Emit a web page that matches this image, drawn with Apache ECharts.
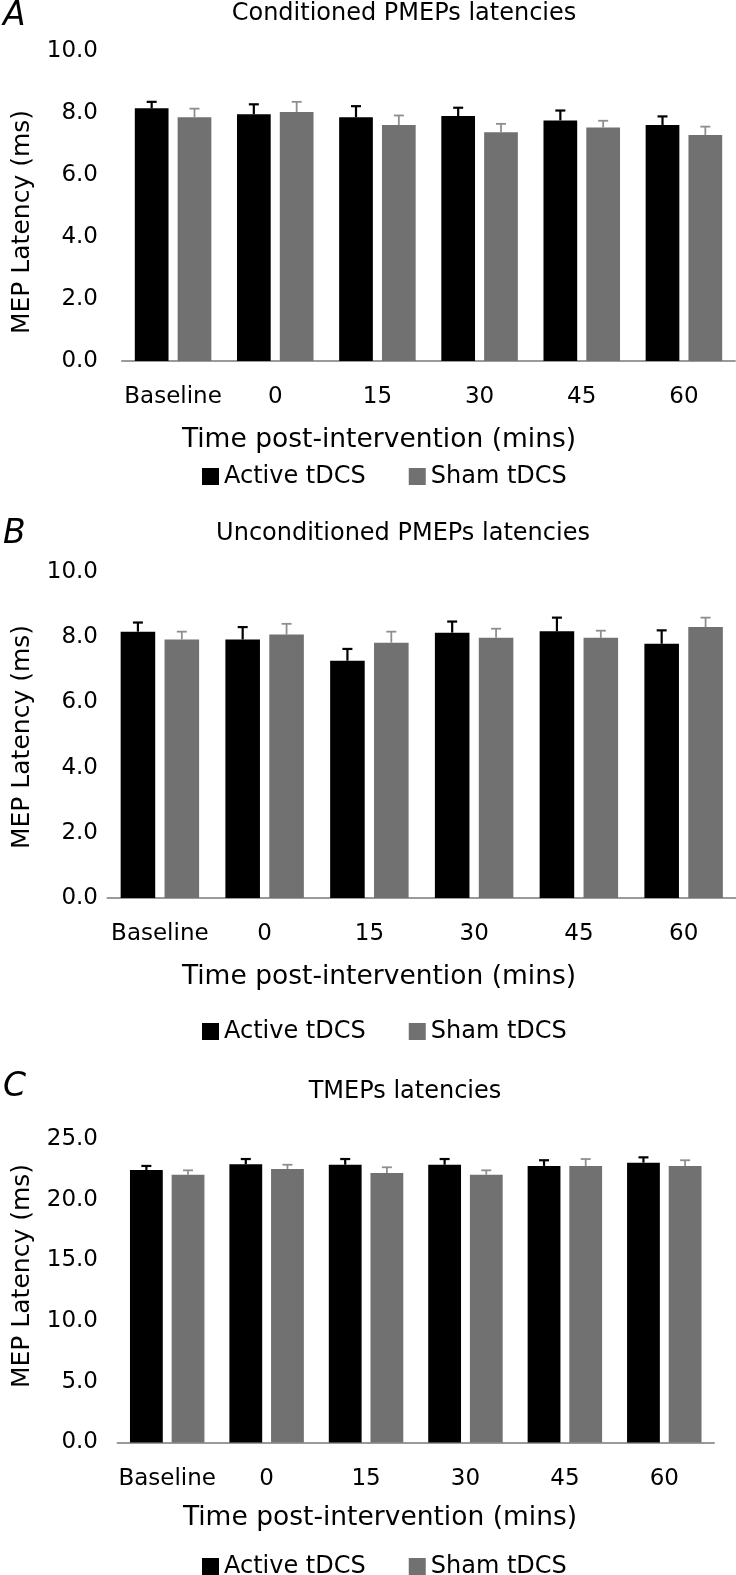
<!DOCTYPE html>
<html>
<head>
<meta charset="utf-8">
<script src="https://cdn.jsdelivr.net/npm/echarts@6/dist/echarts.min.js"></script>
<style>
html,body{margin:0;padding:0;background:#fff;}
#chart{width:736px;height:1575px;}
</style>
</head>
<body>
<div id="chart"></div>
<script>
// ---------- data ----------
const categories = ['Baseline', '0', '15', '30', '45', '60'];
const seriesNames = ['Active tDCS', 'Sham tDCS'];

const condActive    = [8.15, 7.96, 7.86, 7.90, 7.76, 7.61];
const condActiveErr = [0.21, 0.32, 0.36, 0.27, 0.32, 0.28];
const condSham      = [7.86, 8.03, 7.61, 7.38, 7.53, 7.29];
const condShamErr   = [0.28, 0.33, 0.31, 0.27, 0.22, 0.27];

const uncondActive    = [8.17, 7.93, 7.28, 8.14, 8.18, 7.80];
const uncondActiveErr = [0.28, 0.38, 0.36, 0.34, 0.42, 0.41];
const uncondSham      = [7.93, 8.08, 7.83, 7.98, 7.98, 8.31];
const uncondShamErr   = [0.24, 0.33, 0.34, 0.28, 0.22, 0.29];

const tmepActive    = [22.45, 22.92, 22.88, 22.88, 22.78, 23.05];
const tmepActiveErr = [0.33, 0.43, 0.47, 0.47, 0.47, 0.44];
const tmepSham      = [22.06, 22.53, 22.20, 22.06, 22.78, 22.78];
const tmepShamErr   = [0.36, 0.35, 0.47, 0.36, 0.57, 0.47];

const panelTitles = ['Conditioned PMEPs latencies', 'Unconditioned PMEPs latencies', 'TMEPs latencies'];
const panelLetters = ['A', 'B', 'C'];
const yMaxes = [10, 10, 25];
const yIntervals = [2, 2, 5];
const yTitle = 'MEP Latency (ms)';
const xTitle = 'Time post-intervention (mins)';

// ---------- style / layout ----------
const FONT = '"DejaVu Sans", sans-serif';
const BLACK = '#000000';
const GRAY = '#717171';
const ERR_GRAY = '#8e8e8e';
const BAR_W = 0.33, BAR_GAP = 0.27;

const panels = [
  {grid:{left:122, top:51, width:613, height:310}, labelMargin:24, axisY:361,
   letterY:15, titleX:404, titleY:13, yTitleY:222, xTitleX:379, xTitleY:439, legendY:476.5,
   active:condActive, activeErr:condActiveErr, sham:condSham, shamErr:condShamErr},
  {grid:{left:107.5, top:572, width:649, height:326}, labelMargin:9.5, axisY:898,
   letterY:533, titleX:403, titleY:533, yTitleY:737, xTitleX:379, xTitleY:976, legendY:1031.5,
   active:uncondActive, activeErr:uncondActiveErr, sham:uncondSham, shamErr:uncondShamErr},
  {grid:{left:117.5, top:1139, width:596.5, height:303.5}, labelMargin:19.5, axisY:1442.5,
   letterY:1086, titleX:405, titleY:1091, yTitleY:1276, xTitleX:380, xTitleY:1517, legendY:1566.5,
   active:tmepActive, activeErr:tmepActiveErr, sham:tmepSham, shamErr:tmepShamErr}
];

function errRender(sign, color, lw) {
  return function (params, api) {
    const cat = api.value(0), v = api.value(1), e = api.value(2);
    const band = api.size([1, 0])[0];
    const bw = band * BAR_W;
    const dx = sign * (bw + bw * BAR_GAP) / 2;
    const p0 = api.coord([cat, v]);
    const p1 = api.coord([cat, v + e]);
    const x = p0[0] + dx;
    return {
      type: 'group',
      children: [
        {type: 'line', shape: {x1: x, y1: p0[1], x2: x, y2: p1[1]}, style: {stroke: color, lineWidth: lw}},
        {type: 'line', shape: {x1: x - 5, y1: p1[1], x2: x + 5, y2: p1[1]}, style: {stroke: color, lineWidth: lw}}
      ]
    };
  };
}

const grids = [], xAxes = [], yAxes = [], series = [], legends = [], graphics = [];
panels.forEach(function (p, i) {
  grids.push(Object.assign({containLabel: false}, p.grid));
  xAxes.push({
    type: 'category', gridIndex: i, data: categories,
    axisLine: {show: true, lineStyle: {color: '#9a9a9a', width: 2}},
    axisTick: {show: false},
    axisLabel: {color: '#000', fontFamily: FONT, fontSize: 23, margin: 25, interval: 0},
    splitLine: {show: false}
  });
  yAxes.push({
    type: 'value', gridIndex: i, min: 0, max: yMaxes[i], interval: yIntervals[i],
    axisLine: {show: false}, axisTick: {show: false}, splitLine: {show: false},
    axisLabel: {color: '#000', fontFamily: FONT, fontSize: 23, margin: p.labelMargin,
      formatter: function (v) { return v.toFixed(1); }}
  });
  series.push({
    name: seriesNames[0], type: 'bar', xAxisIndex: i, yAxisIndex: i, data: p.active,
    barWidth: (BAR_W * 100) + '%', barGap: (BAR_GAP * 100) + '%',
    itemStyle: {color: BLACK}, z: 2
  });
  series.push({
    name: seriesNames[1], type: 'bar', xAxisIndex: i, yAxisIndex: i, data: p.sham,
    barWidth: (BAR_W * 100) + '%', barGap: (BAR_GAP * 100) + '%',
    itemStyle: {color: GRAY}, z: 2
  });
  series.push({
    type: 'custom', xAxisIndex: i, yAxisIndex: i, z: 5,
    renderItem: errRender(-1, BLACK, 2.2),
    encode: {x: 0, y: 1},
    data: p.active.map(function (v, k) { return [k, v, p.activeErr[k]]; })
  });
  series.push({
    type: 'custom', xAxisIndex: i, yAxisIndex: i, z: 5,
    renderItem: errRender(1, ERR_GRAY, 1.8),
    encode: {x: 0, y: 1},
    data: p.sham.map(function (v, k) { return [k, v, p.shamErr[k]]; })
  });
  legends.push({
    left: 202, top: p.legendY - 12, itemWidth: 17, itemHeight: 17, itemGap: 43,
    icon: 'rect', selectedMode: false, padding: 0,
    textStyle: {fontFamily: FONT, fontSize: 24, color: '#000'},
    data: seriesNames.slice()
  });
  graphics.push({type: 'text', x: 3, y: p.letterY + 1,
    style: {text: panelLetters[i], font: 'italic 33px ' + FONT, fill: '#000', align: 'left', verticalAlign: 'middle'}});
  graphics.push({type: 'text', x: p.titleX, y: p.titleY + 1,
    style: {text: panelTitles[i], font: '24px ' + FONT, fill: '#000', align: 'center', verticalAlign: 'middle'}});
  graphics.push({type: 'text', x: 22, y: p.yTitleY, rotation: Math.PI / 2,
    style: {text: yTitle, font: '25px ' + FONT, fill: '#000', align: 'center', verticalAlign: 'middle'}});
  graphics.push({type: 'text', x: p.xTitleX, y: p.xTitleY + 1,
    style: {text: xTitle, font: '26.5px ' + FONT, fill: '#000', align: 'center', verticalAlign: 'middle'}});
});

const chart = echarts.init(document.getElementById('chart'), null, {renderer: 'canvas'});
chart.setOption({
  animation: false,
  backgroundColor: '#ffffff',
  grid: grids, xAxis: xAxes, yAxis: yAxes, series: series, legend: legends,
  graphic: graphics
});
</script>
</body>
</html>
